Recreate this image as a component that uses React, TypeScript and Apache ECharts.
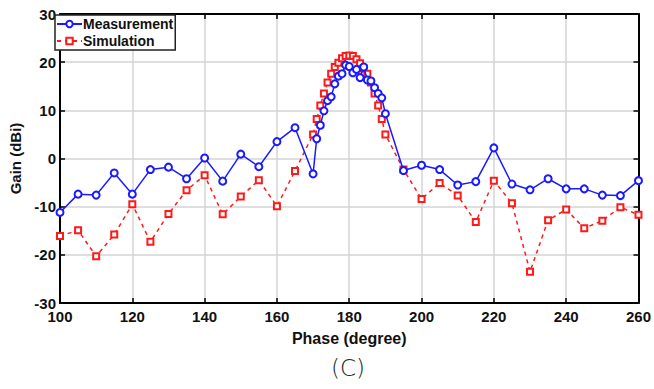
import React, { useEffect, useRef } from "react";
import * as echarts from "echarts";

const phases = [
  100, 105, 110, 115, 120, 125, 130, 135, 140, 145, 150, 155, 160, 165,
  170, 171, 172, 173, 174, 175, 176, 177, 178, 179, 180, 181, 182, 183, 184, 185, 186, 187, 188, 189, 190,
  195, 200, 205, 210, 215, 220, 225, 230, 235, 240, 245, 250, 255, 260,
];

const measurement = [
  -11.2, -7.4, -7.6, -3.0, -7.4, -2.3, -1.8, -4.2, 0.1, -4.7, 0.9, -1.7, 3.5, 6.4,
  -3.2, 4.1, 6.9, 9.9, 12.0, 12.8, 15.5, 17.1, 17.6, 19.4, 19.1, 17.8, 18.5, 16.8, 19.0, 16.3, 16.1, 14.7, 13.5, 12.6, 9.3,
  -2.5, -1.4, -2.3, -5.5, -4.8, 2.2, -5.3, -6.5, -4.2, -6.3, -6.3, -7.6, -7.7, -4.6,
];

const simulation = [
  -16.1, -14.9, -20.3, -15.8, -9.5, -17.3, -11.5, -6.6, -3.5, -11.6, -7.9, -4.5, -9.9, -2.6,
  5.0, 8.2, 11.0, 13.5, 15.8, 17.6, 19.0, 19.9, 20.8, 21.3, 21.4, 21.3, 20.6, 19.8, 18.7, 17.6, 15.8, 13.5, 11.0, 8.2, 5.0,
  -2.3, -8.4, -5.1, -7.7, -13.2, -4.6, -9.3, -23.5, -12.8, -10.6, -14.5, -12.9, -10.1, -11.7,
];

const FONT = "'Liberation Sans', Arial, sans-serif";

export default function App() {
  const ref = useRef<HTMLDivElement>(null);
  useEffect(() => {
    if (!ref.current) return;
    const chart = echarts.init(ref.current, null, { renderer: "svg" });
    const tickStyle = { show: true, inside: true, length: 5, lineStyle: { color: "#000", width: 1.5 } };
    const lineAx = { show: true, onZero: false, lineStyle: { color: "#000", width: 2 } };
    chart.setOption({
      animation: false,
      backgroundColor: "#fff",
      grid: { left: 54, right: 14, top: 14, bottom: 86, containLabel: false },
      legend: {
        left: 55,
        top: 15,
        orient: "vertical",
        backgroundColor: "#fff",
        borderColor: "#222",
        borderWidth: 1.5,
        padding: [2, 2, 2, 1],
        itemGap: 3,
        itemWidth: 25,
        itemHeight: 8,
        z: 10,
        textStyle: { fontFamily: FONT, fontWeight: "bold", fontSize: 14, color: "#111", padding: [0, 0, 0, -4] },
        data: ["Measurement", "Simulation"],
      },
      xAxis: [
        {
          type: "value",
          min: 100,
          max: 260,
          interval: 20,
          position: "bottom",
          name: "Phase (degree)",
          nameLocation: "middle",
          nameGap: 27,
          nameTextStyle: { fontFamily: FONT, fontWeight: "bold", fontSize: 16, color: "#111" },
          axisLine: lineAx,
          axisTick: tickStyle,
          axisLabel: { fontFamily: FONT, fontWeight: "bold", fontSize: 15, color: "#111", margin: 6 },
          splitLine: { show: true, lineStyle: { color: "#d4d4d4", width: 1.5 } },
        },
        {
          type: "value",
          min: 100,
          max: 260,
          interval: 20,
          position: "top",
          axisLine: lineAx,
          axisTick: tickStyle,
          axisLabel: { show: false },
          splitLine: { show: false },
        },
      ],
      yAxis: [
        {
          type: "value",
          min: -30,
          max: 30,
          interval: 10,
          position: "left",
          name: "Gain (dBi)",
          nameLocation: "middle",
          nameGap: 37,
          nameRotate: 90,
          nameTextStyle: { fontFamily: FONT, fontWeight: "bold", fontSize: 15, color: "#111" },
          axisLine: lineAx,
          axisTick: tickStyle,
          axisLabel: { fontFamily: FONT, fontWeight: "bold", fontSize: 15, color: "#111", margin: 4 },
          splitLine: { show: true, lineStyle: { color: "#d4d4d4", width: 1.5 } },
        },
        {
          type: "value",
          min: -30,
          max: 30,
          interval: 10,
          position: "right",
          axisLine: lineAx,
          axisTick: tickStyle,
          axisLabel: { show: false },
          splitLine: { show: false },
        },
      ],
      series: [
        {
          name: "Measurement",
          type: "line",
          xAxisIndex: 0,
          yAxisIndex: 0,
          data: phases.map((p, i) => [p, measurement[i]]),
          symbol: "emptyCircle",
          symbolSize: 7,
          lineStyle: { color: "#1a1aff", width: 1.5 },
          itemStyle: { color: "#1a1aff", borderColor: "#1a1aff", borderWidth: 1.5 },
          z: 3,
        },
        {
          name: "Simulation",
          type: "line",
          xAxisIndex: 0,
          yAxisIndex: 0,
          data: phases.map((p, i) => [p, simulation[i]]),
          symbol: "emptyRect",
          symbolSize: 6,
          lineStyle: { color: "#ff1a1a", width: 1.5, type: [4, 4] },
          itemStyle: { color: "#ff1a1a", borderColor: "#ff1a1a", borderWidth: 1.5 },
          z: 2,
        },
      ],
      graphic: [
        {
          type: "text",
          left: 331,
          top: 356,
          style: {
            text: "(C)",
            fontFamily: "'DejaVu Sans', 'Noto Sans', sans-serif",
            fontWeight: 200,
            fontSize: 23,
            fill: "#222",
          },
        },
      ],
    });
    return () => chart.dispose();
  }, []);
  return (
    <div
      ref={ref}
      style={{ position: "fixed", left: 0, top: 0, width: 654, height: 389 }}
    />
  );
}
